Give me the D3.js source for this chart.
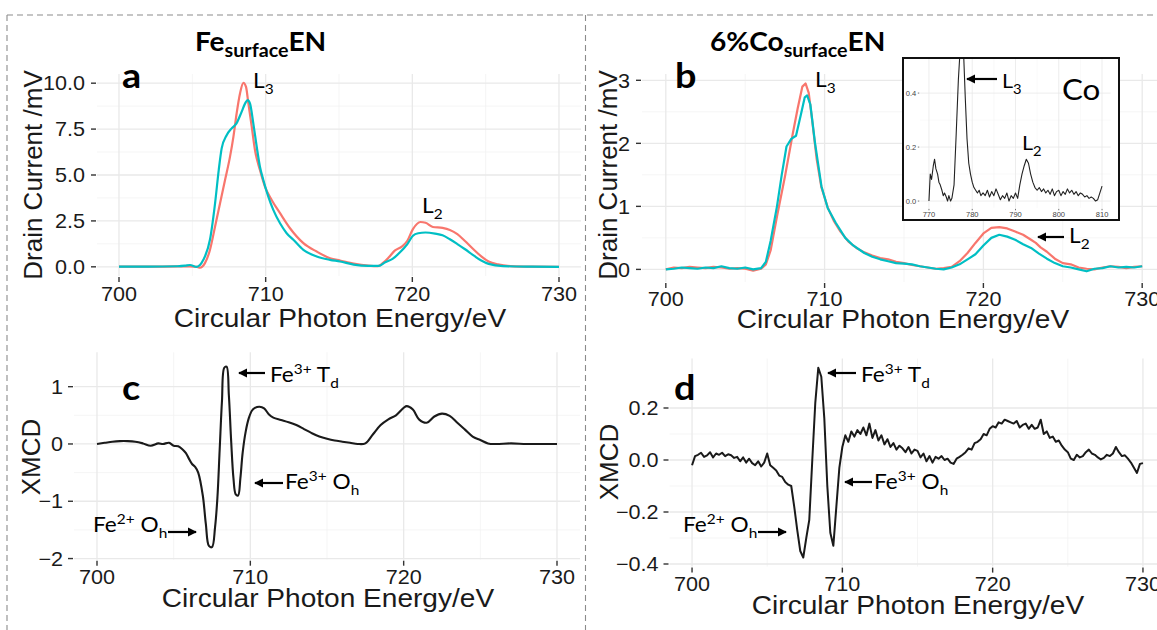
<!DOCTYPE html>
<html><head><meta charset="utf-8">
<script src="https://cdn.jsdelivr.net/npm/d3@7"></script>
<style>body{margin:0;background:#fff;} svg{display:block;}</style>
</head><body>
<svg id="fig" width="1157" height="630"></svg>
<script>
// ---------- data ----------
// (a) Fe L-edge drain current, two helicities
const feRedE  = [700,702,704,704.84,705.3,705.52,705.86,706.2,706.55,706.89,707.23,707.57,707.8,708.02,708.25,708.48,708.66,708.82,709.05,709.27,709.61,709.95,710.41,710.98,711.66,712.57,713.48,714.39,715.07,716,717,717.65,718.0,718.4,718.8,719.3,719.66,720.04,720.55,720.9,721.4,722.06,722.56,723.07,723.57,724.2,724.7,725.2,725.84,726.7,728,730];
const feRedV  = [0.01,0.01,0.02,0.02,0,-0.05,0.2,0.92,2.19,3.46,4.73,6.0,7.08,8.35,9.44,10.02,9.8,8.9,7.63,6.36,5.27,4.37,3.64,2.92,2.1,1.29,0.83,0.47,0.34,0.18,0.07,0.04,0.21,0.52,0.88,1.11,1.42,2.05,2.44,2.4,2.17,2.12,2.01,1.78,1.42,0.93,0.57,0.29,0.13,0.04,0.01,0];
const feCyanE = [700,702,704,704.5,704.84,705.3,705.75,706.2,706.55,706.8,707.0,707.34,707.68,708.0,708.36,708.6,708.77,708.93,709.16,709.39,709.61,709.84,710.18,710.52,710.98,711.43,711.89,712.57,713.48,714.39,715.07,716,717,717.7,718.15,718.65,719.16,719.66,720.04,720.4,720.9,721.55,722.06,722.56,723.07,723.57,724.2,724.7,725.2,726.2,728,730];
const feCyanV = [0.01,0.01,0.03,0.06,0.1,0,0.38,1.47,3.46,5.27,6.45,7.17,7.54,7.8,8.44,8.9,9.08,8.9,7.8,6.54,5.45,4.73,3.82,3.1,2.37,1.83,1.47,0.92,0.56,0.38,0.29,0.12,0.05,0.05,0.25,0.43,0.79,1.24,1.69,1.83,1.87,1.81,1.72,1.5,1.24,0.97,0.61,0.34,0.16,0.04,0.01,0];

// (b) 6% Co sample, Fe L-edge
const coRedE  = [700,700.5,701,701.5,702,702.5,703,703.5,704,704.5,705,705.5,706,706.3,706.6,707,707.5,708,708.3,708.6,708.8,709,709.2,709.5,709.8,710.2,710.6,711,711.5,712,712.5,713,713.5,714,714.5,715,715.5,716,716.5,717,717.5,718,718.5,719,719.5,720,720.5,721,721.5,722,722.5,723,723.3,723.6,724,724.5,725,725.5,726,726.5,727,727.5,728,728.5,729,729.5,730];
const coRedV  = [0.0,0.03,0.02,0.04,0.03,0.02,0.04,0.03,0.01,0.02,0.01,-0.02,0.01,0.08,0.3,0.84,1.47,2.16,2.55,2.9,2.95,2.8,2.4,1.75,1.3,0.98,0.76,0.6,0.44,0.34,0.27,0.22,0.18,0.16,0.12,0.1,0.07,0.05,0.03,0.01,0.02,0.04,0.13,0.26,0.42,0.57,0.66,0.67,0.65,0.6,0.55,0.47,0.42,0.35,0.28,0.17,0.1,0.08,0.03,0.01,0.0,0.03,0.05,0.04,0.02,0.04,0.05];
const coCyanE = [700,700.5,701,701.5,702,702.5,703,703.5,704,704.5,705,705.5,706,706.3,706.6,707,707.3,707.6,707.9,708.2,708.5,708.75,708.9,709.1,709.4,709.8,710.2,710.7,711.3,711.8,712.5,713,713.5,714,714.5,715,715.5,716,716.5,717,717.5,718,718.5,719,719.5,720,720.5,721,721.5,722,722.5,723,723.5,724,724.5,725,725.5,726,726.5,727,727.5,728,728.5,729,729.5,730];
const coCyanV = [0.0,0.01,0.03,0.02,0.01,0.03,0.02,0.05,0.02,0.01,0.03,0.0,0.02,0.12,0.45,1.0,1.5,1.95,2.07,2.12,2.45,2.73,2.76,2.62,2.0,1.32,0.97,0.74,0.5,0.38,0.26,0.2,0.16,0.13,0.1,0.09,0.08,0.05,0.03,0.01,0.0,0.03,0.08,0.16,0.24,0.38,0.5,0.55,0.52,0.47,0.4,0.34,0.25,0.17,0.1,0.05,0.03,0.0,-0.03,0.01,0.02,0.05,0.03,0.04,0.03,0.05];

// inset: Co L-edge
const coEdgeE = [770,770.3,770.6,771,771.3,771.6,772,772.3,772.6,773,773.3,773.6,774,774.3,774.6,775,775.3,775.8,776.3,776.8,777.2,777.6,778,778.4,778.8,779.2,779.6,780,780.4,780.8,781.2,781.6,782,782.5,783,783.5,784,784.5,785,785.5,786,786.5,787,787.5,788,788.5,789,789.5,790,790.5,791,791.5,792,792.5,793,793.5,794,794.5,795,795.5,796,796.5,797,797.5,798,798.5,799,799.5,800,800.5,801,801.5,802,802.5,803,803.5,804,804.5,805,805.5,806,806.5,807,807.5,808,808.5,809,809.5,810];
const coEdgeV = [0.0,0.1,0.08,0.13,0.155,0.12,0.1,0.07,0.06,0.04,0.02,0.03,0.015,0.0,0.02,0.0,0.01,0.06,0.25,0.45,0.56,0.62,0.55,0.38,0.23,0.14,0.1,0.07,0.05,0.04,0.03,0.04,0.02,0.03,0.02,0.04,0.015,0.035,0.02,0.045,0.025,0.005,0.02,0.01,0.03,0.0,0.02,0.01,0.03,0.01,0.06,0.1,0.13,0.155,0.14,0.1,0.07,0.05,0.04,0.05,0.035,0.045,0.03,0.04,0.025,0.045,0.02,0.035,0.04,0.02,0.035,0.025,0.045,0.03,0.04,0.025,0.035,0.02,0.03,0.025,0.015,0.02,0.01,0.015,0.01,0.0,0.005,0.03,0.055];

// (c) XMCD, Fe sample
const xmcdFeE = [700,700.5,701,701.5,702,702.5,703,703.5,704,704.3,704.7,705,705.3,705.6,705.8,706.0,706.2,706.4,706.6,706.9,707.1,707.3,707.5,707.7,707.85,708.0,708.15,708.3,708.45,708.6,708.75,708.9,709.05,709.2,709.35,709.5,709.7,709.9,710.1,710.3,710.6,710.9,711.2,711.5,712,712.5,713,713.5,714,714.5,715,715.5,716,716.5,717,717.5,718,718.5,719,719.5,720,720.2,720.6,721,721.5,722,722.5,723,723.5,724,724.5,725,725.5,726,727,728,729,730];
const xmcdFeV = [0,0.02,0.04,0.05,0.05,0.04,0.01,-0.03,0.01,0.0,0.02,-0.03,-0.04,-0.1,-0.16,-0.26,-0.35,-0.4,-0.5,-0.9,-1.4,-1.78,-1.8,-1.45,-0.95,-0.1,0.75,1.33,1.35,0.85,0.05,-0.6,-0.88,-0.9,-0.6,-0.15,0.22,0.45,0.58,0.63,0.65,0.62,0.52,0.46,0.42,0.38,0.33,0.26,0.19,0.13,0.09,0.06,0.04,0.02,0.0,0.01,0.17,0.33,0.43,0.5,0.63,0.66,0.6,0.43,0.37,0.48,0.53,0.49,0.37,0.25,0.13,0.07,0.01,0.0,0.01,0.0,0.0,0.0];

// (d) XMCD, 6% Co sample (0.2 eV steps from 700 eV)
const xmcdCoE = d3.range(0, 151).map(i => 700 + i * 0.2);
const xmcdCoV = [-0.02,0.015,0.02,0.028,0.012,0.018,0.03,0.01,0.025,0.02,
  0.028,0.015,0.022,0.018,0.008,0.012,-0.005,0.01,-0.01,0.005,
  -0.012,-0.02,-0.005,-0.025,-0.01,0.025,-0.02,-0.03,-0.04,-0.06,
  -0.065,-0.085,-0.095,-0.1,-0.18,-0.27,-0.35,-0.375,-0.3,-0.23,
  0.0,0.22,0.355,0.32,0.16,-0.1,-0.28,-0.33,-0.18,-0.03,
  0.05,0.095,0.07,0.11,0.09,0.115,0.1,0.125,0.095,0.14,
  0.085,0.115,0.075,0.095,0.06,0.08,0.05,0.065,0.04,0.055,
  0.045,0.03,0.05,0.025,0.04,0.035,0.01,0.025,-0.005,0.015,
  -0.01,0.012,0.005,0.015,0.0,0.005,-0.01,-0.015,0.005,0.012,
  0.02,0.03,0.045,0.04,0.065,0.07,0.08,0.1,0.095,0.12,
  0.13,0.125,0.145,0.14,0.155,0.15,0.145,0.14,0.15,0.125,
  0.135,0.14,0.12,0.135,0.12,0.125,0.155,0.1,0.11,0.085,
  0.09,0.07,0.075,0.055,0.04,0.03,0.005,0.0,0.02,0.01,
  0.015,0.03,0.04,0.025,0.02,0.01,0.002,0.008,0.02,0.015,
  0.025,0.05,0.03,0.015,0.018,0.005,-0.01,-0.03,-0.05,-0.015,
  -0.012];

// ticks
const energyTicks = [700, 710, 720, 730];
const feDrainTicks = [0, 2.5, 5, 7.5, 10];
const coDrainTicks = [0, 1, 2, 3];
const xmcdFeTicks = [-2, -1, 0, 1];
const xmcdCoTicks = [-0.4, -0.2, 0, 0.2];
const insetXTicks = [770, 780, 790, 800, 810];
const insetYTicks = [0, 0.2, 0.4];

// ---------- drawing ----------
const RED = "#F8766D", CYAN = "#00BFC4", INK = "#1a1a1a";
const SX = 1.08;              // horizontal stretch of the figure text
const AX_FONT = "'Liberation Sans', Arial, sans-serif";
const ANN_FONT = "Lato, 'Open Sans', sans-serif";
const svg = d3.select("#fig");

svg.append("defs").append("marker")
  .attr("id", "head").attr("viewBox", "0 0 10 10")
  .attr("refX", 9).attr("refY", 5)
  .attr("markerWidth", 4.2).attr("markerHeight", 4.2)
  .attr("markerUnits", "strokeWidth").attr("orient", "auto")
  .append("path").attr("d", "M0,0 L10,5 L0,10 z").attr("fill", "#000");

function text(g, x, y, s, o = {}) {
  return g.append("text")
    .attr("transform", `translate(${x},${y}) scale(${o.sx ?? SX},1)`)
    .attr("font-family", o.font || AX_FONT)
    .attr("font-size", o.size || 20)
    .attr("font-weight", o.weight || "normal")
    .attr("text-anchor", o.anchor || "start")
    .attr("fill", o.fill || INK)
    .text(s);
}

// rich text: parts = [[str, "sup"|"sub"|null], ...]
function rich(g, x, y, parts, size, o = {}) {
  const t = g.append("text")
    .attr("transform", `translate(${x},${y}) scale(${SX},1)`)
    .attr("font-family", o.font || ANN_FONT)
    .attr("font-size", size)
    .attr("font-weight", o.weight || "normal")
    .attr("fill", "#000");
  let shift = 0;
  parts.forEach(([s, kind]) => {
    const target = kind === "sup" ? -size * 0.38 : kind === "sub" ? size * (o.subDrop || 0.28) : 0;
    t.append("tspan")
      .attr("dy", target - shift)
      .attr("font-size", kind ? size * (o.subScale || 0.68) : size)
      .text(s);
    shift = target;
  });
  return t;
}

function arrow(g, x1, y, x2) {
  g.append("line").attr("x1", x1).attr("y1", y).attr("x2", x2).attr("y2", y)
    .attr("stroke", "#000").attr("stroke-width", 2.2)
    .attr("marker-end", "url(#head)");
}

// one ggplot-like panel
function panel(cfg) {
  const g = svg.append("g");
  const x = d3.scaleLinear().domain(cfg.xDomain).range(cfg.xRange);
  const y = d3.scaleLinear().domain(cfg.yDomain).range(cfg.yRange);
  const [L, R] = cfg.xRange, [B, T] = cfg.yRange;
  const fs = cfg.tickSize || 20;

  // grid
  const minor = (ticks) => ticks.slice(1).map((t, i) => (t + ticks[i]) / 2);
  const grid = g.append("g");
  const xMinor = minor(cfg.xTicks);
  const yMinor = minor(cfg.yTicks);
  grid.selectAll(".xm").data(xMinor).join("line")
    .attr("x1", d => x(d)).attr("x2", d => x(d)).attr("y1", T).attr("y2", B)
    .attr("stroke", "#f2f2f2").attr("stroke-width", cfg.minorW || 0.8);
  grid.selectAll(".ym").data(yMinor).join("line")
    .attr("y1", d => y(d)).attr("y2", d => y(d)).attr("x1", L).attr("x2", R)
    .attr("stroke", "#f2f2f2").attr("stroke-width", cfg.minorW || 0.8);
  grid.selectAll(".xM").data(cfg.xTicks).join("line")
    .attr("x1", d => x(d)).attr("x2", d => x(d)).attr("y1", T).attr("y2", B)
    .attr("stroke", "#e9e9e9").attr("stroke-width", cfg.majorW || 1.3);
  grid.selectAll(".yM").data(cfg.yTicks).join("line")
    .attr("y1", d => y(d)).attr("y2", d => y(d)).attr("x1", L).attr("x2", R)
    .attr("stroke", "#e9e9e9").attr("stroke-width", cfg.majorW || 1.3);

  // tick marks and labels
  const tk = cfg.tickLen ?? 5;
  g.selectAll(".xt").data(cfg.xTicks).join("line")
    .attr("x1", d => x(d)).attr("x2", d => x(d)).attr("y1", B + 1).attr("y2", B + 1 + tk)
    .attr("stroke", "#333").attr("stroke-width", cfg.tickW || 1.4);
  g.selectAll(".yt").data(cfg.yTicks).join("line")
    .attr("y1", d => y(d)).attr("y2", d => y(d)).attr("x1", L - 1 - tk).attr("x2", L - 1)
    .attr("stroke", "#333").attr("stroke-width", cfg.tickW || 1.4);
  cfg.xTicks.forEach(t => text(g, x(t), B + cfg.xLabGap, cfg.xFmt(t), { size: fs, anchor: "middle", fill: cfg.tickFill }));
  cfg.yTicks.forEach(t => text(g, L - cfg.yLabGap, y(t) + fs * 0.36, cfg.yFmt(t), { size: fs, anchor: "end", fill: cfg.tickFill }));

  // data
  const body = g.append("g");
  if (cfg.clip) {
    const id = "clip" + Math.round(L);
    svg.select("defs").append("clipPath").attr("id", id)
      .append("rect").attr("x", cfg.clip[0]).attr("y", cfg.clip[1]).attr("width", cfg.clip[2]).attr("height", cfg.clip[3]);
    body.attr("clip-path", `url(#${id})`);
  }
  cfg.series.forEach(s => {
    const line = d3.line().x(d => x(d[0])).y(d => y(d[1])).curve(s.curve || d3.curveLinear);
    body.append("path").datum(d3.zip(s.e, s.v)).attr("d", line)
      .attr("fill", "none").attr("stroke", s.color).attr("stroke-width", s.width)
      .attr("stroke-linejoin", "round");
  });
  return { g, x, y };
}

const eFmt = d3.format("d");

// dashed frame
const frame = svg.append("g").attr("stroke", "#8c8c8c").attr("stroke-width", 1.1)
  .attr("stroke-dasharray", "6,4").attr("fill", "none");
frame.append("line").attr("x1", 7).attr("x2", 1157).attr("y1", 15).attr("y2", 15);
frame.append("line").attr("x1", 7).attr("x2", 7).attr("y1", 15).attr("y2", 630);
frame.append("line").attr("x1", 585.5).attr("x2", 585.5).attr("y1", 15).attr("y2", 630);

// (a)
panel({
  xDomain: [698.5, 731.5], xRange: [97, 581],
  yDomain: [-0.5, 10.5], yRange: [276, 74],
  xTicks: energyTicks, yTicks: feDrainTicks,
  xFmt: eFmt, yFmt: d3.format(".1f"), xLabGap: 25, yLabGap: 12,
  series: [
    { e: feRedE, v: feRedV, color: RED, width: 2.2, curve: d3.curveMonotoneX },
    { e: feCyanE, v: feCyanV, color: CYAN, width: 2.2, curve: d3.curveMonotoneX }
  ]
});
// (b)
panel({
  xDomain: [698.5, 731.5], xRange: [642, 1166],
  yDomain: [-0.2, 3.1], yRange: [282, 74],
  xTicks: energyTicks, yTicks: coDrainTicks,
  xFmt: eFmt, yFmt: d3.format("d"), xLabGap: 24, yLabGap: 12,
  series: [
    { e: coRedE, v: coRedV, color: RED, width: 2.2 },
    { e: coCyanE, v: coCyanV, color: CYAN, width: 2.2 }
  ]
});
// (c)
panel({
  xDomain: [698.5, 731.5], xRange: [74, 580],
  yDomain: [-2.02, 1.6], yRange: [559.7, 352.3],
  xTicks: energyTicks, yTicks: xmcdFeTicks,
  xFmt: eFmt, yFmt: d3.format("d"), xLabGap: 24, yLabGap: 11,
  series: [{ e: xmcdFeE, v: xmcdFeV, color: "#1a1a1a", width: 2.1, curve: d3.curveCatmullRom.alpha(0.5) }]
});
// (d)
panel({
  xDomain: [698.5, 731.5], xRange: [669.5, 1165.5],
  yDomain: [-0.41, 0.39], yRange: [566.6, 358.6],
  xTicks: energyTicks, yTicks: xmcdCoTicks,
  xFmt: eFmt, yFmt: d3.format(".1f"), xLabGap: 24, yLabGap: 11,
  series: [{ e: xmcdCoE, v: xmcdCoV, color: "#1a1a1a", width: 2.0 }]
});

// inset (Co edge) inside panel b
svg.append("rect").attr("x", 903).attr("y", 58).attr("width", 216).attr("height", 162)
  .attr("fill", "#fff");
panel({
  xDomain: [768, 812], xRange: [920.3, 1110.7],
  yDomain: [-0.025, 0.53], yRange: [207.8, 58],
  xTicks: insetXTicks, yTicks: insetYTicks,
  xFmt: eFmt, yFmt: d3.format(".1f"), xLabGap: 9, yLabGap: 4,
  tickSize: 7, tickLen: 1.5, tickW: 0.7, majorW: 0.8, minorW: 0.5, tickFill: "#444",
  clip: [904, 59, 214, 160],
  series: [{ e: coEdgeE, v: coEdgeV, color: "#222", width: 1.1 }]
});
svg.append("rect").attr("x", 903).attr("y", 58).attr("width", 216).attr("height", 162)
  .attr("fill", "none").attr("stroke", "#111").attr("stroke-width", 2);

// axis titles
const T = svg.append("g");
text(T, 340, 327, "Circular Photon Energy/eV", { size: 26, anchor: "middle" });
text(T, 903, 328, "Circular Photon Energy/eV", { size: 26, anchor: "middle" });
text(T, 328, 607, "Circular Photon Energy/eV", { size: 26, anchor: "middle" });
text(T, 918, 614, "Circular Photon Energy/eV", { size: 26, anchor: "middle" });
[[42, 175, "Drain Current /mV"], [617, 175, "Drain Current /mV"], [40, 457, "XMCD"], [618, 462, "XMCD"]]
  .forEach(([x, y, s]) => T.append("text")
    .attr("transform", `translate(${x},${y}) rotate(-90)`)
    .attr("font-family", AX_FONT).attr("font-size", 26).attr("text-anchor", "middle")
    .attr("fill", INK).text(s));

// headings and panel letters
rich(T, 195, 51, [["Fe"], ["surface", "sub"], ["EN"]], 26, { weight: "bold", subDrop: 0.22, subScale: 0.7 });
rich(T, 710, 51, [["6%Co"], ["surface", "sub"], ["EN"]], 26, { weight: "bold", subDrop: 0.22, subScale: 0.7 });
[[122, 88, "a"], [675, 88, "b"], [122, 400, "c"], [674, 400, "d"]]
  .forEach(([x, y, s]) => text(T, x, y, s, { size: 35, weight: "bold", font: ANN_FONT, fill: "#000" }));

// peak annotations
const A = svg.append("g");
rich(A, 253, 88, [["L"], ["3", "sub"]], 21);
rich(A, 422, 213, [["L"], ["2", "sub"]], 21);
rich(A, 815, 87, [["L"], ["3", "sub"]], 21);
rich(A, 1069, 243, [["L"], ["2", "sub"]], 21);
arrow(A, 1064, 237, 1038);
rich(A, 1002, 88, [["L"], ["3", "sub"]], 20);
arrow(A, 997, 79, 967);
rich(A, 1022, 150, [["L"], ["2", "sub"]], 20);
text(A, 1062, 100, "Co", { size: 29, font: ANN_FONT, fill: "#000" });

// XMCD site annotations
const site = (x, y, ion, sym, sub) => rich(A, x, y, [["Fe"], [ion, "sup"], [" " + sym], [sub, "sub"]], 21);
site(270, 382, "3+", "T", "d");  arrow(A, 265, 373, 239);
site(285, 489, "3+", "O", "h");  arrow(A, 283, 483, 255);
site(93, 532, "2+", "O", "h");   arrow(A, 168, 532, 196);
site(861, 382, "3+", "T", "d");  arrow(A, 856, 373, 828);
site(874, 489, "3+", "O", "h");  arrow(A, 872, 482, 845);
site(683, 532, "2+", "O", "h");  arrow(A, 758, 532, 786);
</script>
</body></html>
